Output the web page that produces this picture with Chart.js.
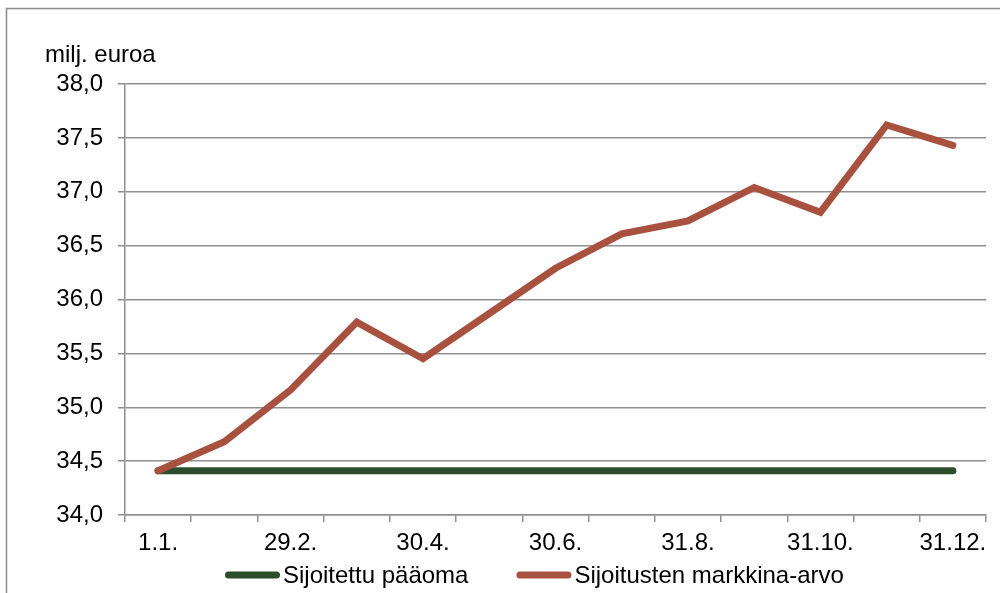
<!DOCTYPE html>
<html>
<head>
<meta charset="utf-8">
<script src="https://cdn.jsdelivr.net/npm/chart.js@4.4.1/dist/chart.umd.min.js"></script>
<style>
  html, body { margin: 0; padding: 0; background: #fff; }
  canvas { display: block; }
</style>
</head>
<body>
<canvas id="c" width="1000" height="593"></canvas>
<script>
// Month-end dates over the year
const categories = ['1.1.', '31.1.', '29.2.', '31.3.', '30.4.', '31.5.', '30.6.',
                    '31.7.', '31.8.', '30.9.', '31.10.', '30.11.', '31.12.'];

// Invested capital (milj. euroa)
const sijoitettuPaaoma = [34.41, 34.41, 34.41, 34.41, 34.41, 34.41, 34.41,
                          34.41, 34.41, 34.41, 34.41, 34.41, 34.41];

// Market value of the investments (milj. euroa)
const markkinaArvo = [34.41, 34.68, 35.16, 35.79, 35.45, 35.87, 36.29,
                      36.61, 36.73, 37.04, 36.81, 37.62, 37.43];

const yTickLabels = ['34,0', '34,5', '35,0', '35,5', '36,0', '36,5', '37,0', '37,5', '38,0'];

const seriesNames = ['Sijoitettu pääoma', 'Sijoitusten markkina-arvo'];
const yUnit = 'milj. euroa';

const FONT = "'Liberation Sans', Arial, sans-serif";
const FONT_SIZE = 24;
const GRID = '#8f8f8f';

// Frame, unit label and legend drawn on the canvas
const decorations = {
  id: 'decorations',
  beforeDraw(chart) {
    const ctx = chart.ctx;
    ctx.save();
    ctx.fillStyle = '#fff';
    ctx.fillRect(0, 0, chart.width, chart.height);
    ctx.strokeStyle = '#8c8c8c';
    ctx.lineWidth = 1.5;
    ctx.beginPath();
    ctx.moveTo(6.5, chart.height);
    ctx.lineTo(6.5, 8.5);
    ctx.lineTo(chart.width, 8.5);
    ctx.stroke();
    ctx.restore();
  },
  afterDraw(chart) {
    const ctx = chart.ctx;
    ctx.save();
    ctx.font = FONT_SIZE + 'px ' + FONT;
    ctx.fillStyle = '#000';
    ctx.textBaseline = 'alphabetic';
    ctx.textAlign = 'left';
    ctx.fillText(yUnit, 45, 62);

    // legend
    let x = 225;
    const y = 575;
    ctx.textBaseline = 'middle';
    chart.data.datasets.forEach(ds => {
      const w = ds.borderWidth;
      ctx.strokeStyle = ds.borderColor;
      ctx.lineWidth = w;
      ctx.lineCap = 'round';
      ctx.beginPath();
      ctx.moveTo(x + w / 2, y);
      ctx.lineTo(x + 55 - w / 2, y);
      ctx.stroke();
      ctx.fillStyle = '#000';
      const tx = x + 58;
      ctx.fillText(ds.label, tx, y + 1);
      x = tx + ctx.measureText(ds.label).width + 48;
    });
    ctx.restore();
  }
};

new Chart(document.getElementById('c'), {
  type: 'line',
  data: {
    labels: categories,
    datasets: [
      {
        label: seriesNames[0],
        data: sijoitettuPaaoma,
        borderColor: '#2C4D2C',
        borderWidth: 7,
        borderCapStyle: 'round',
        pointRadius: 0,
        tension: 0,
        order: 1
      },
      {
        label: seriesNames[1],
        data: markkinaArvo,
        borderColor: '#A8513F',
        borderWidth: 7,
        borderCapStyle: 'round',
        pointRadius: 0,
        tension: 0,
        order: 0
      }
    ]
  },
  options: {
    responsive: false,
    animation: false,
    devicePixelRatio: 1,
    layout: { padding: { top: 84, right: 14, bottom: 0, left: 0 } },
    plugins: {
      legend: { display: false },
      tooltip: { enabled: false },
      title: { display: false }
    },
    scales: {
      x: {
        type: 'category',
        offset: true,
        afterFit(scale) { scale.height = 78; },
        grid: {
          offset: true,
          drawOnChartArea: false,
          drawTicks: true,
          tickLength: 7,
          color: GRID,
          lineWidth: 1.5
        },
        border: { color: GRID, width: 1.5 },
        ticks: {
          autoSkip: false,
          maxRotation: 0,
          padding: 7,
          color: '#000',
          font: { family: FONT, size: FONT_SIZE },
          callback(value, index) {
            return index % 2 === 0 ? categories[index] : '';
          }
        }
      },
      y: {
        min: 34,
        max: 38,
        afterFit(scale) { scale.width = 125; },
        grid: {
          drawTicks: true,
          tickLength: 7,
          color: GRID,
          lineWidth: 1.5
        },
        border: { color: GRID, width: 1.5 },
        ticks: {
          stepSize: 0.5,
          padding: 15,
          color: '#000',
          font: { family: FONT, size: FONT_SIZE },
          callback(value, index) { return yTickLabels[index]; }
        }
      }
    }
  },
  plugins: [decorations]
});
</script>
</body>
</html>
